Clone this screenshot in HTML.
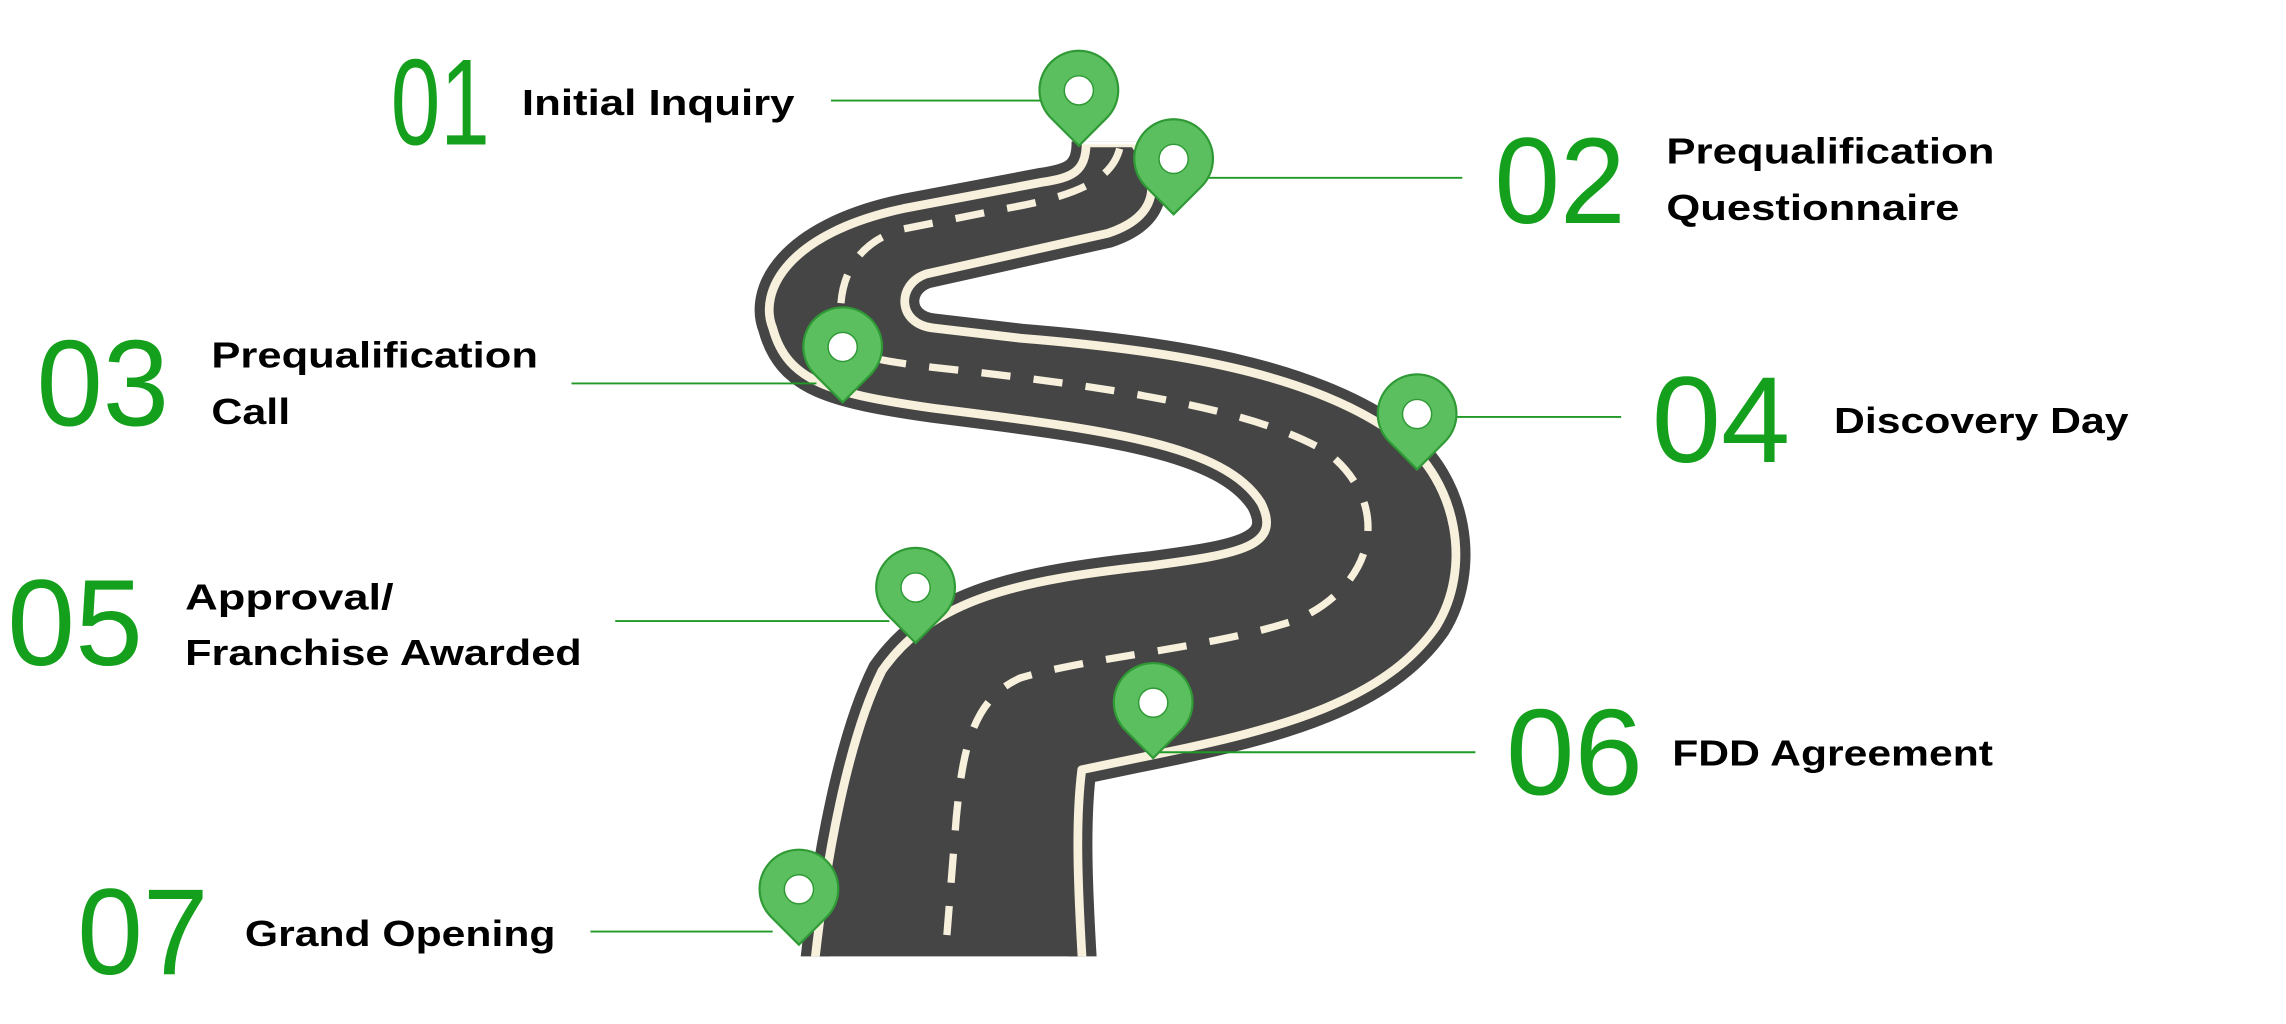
<!DOCTYPE html>
<html><head><meta charset="utf-8"><style>
html,body{margin:0;padding:0;background:#fff;}
svg{display:block;}
.n{font-family:"Liberation Sans",sans-serif;fill:#14a01c;font-size:84px;}
.t{font-family:"Liberation Sans",sans-serif;font-weight:bold;fill:#000;font-size:25px;}
.ln{stroke:#1f9a26;stroke-width:1.3;}
</style></head><body>
<svg width="2286" height="1024" viewBox="0 0 1568 702.4" preserveAspectRatio="none" xmlns="http://www.w3.org/2000/svg">
<defs>
<clipPath id="c"><rect x="0" y="97" width="1568" height="559"/></clipPath>
<g id="pin"><path d="M0,0 L-19,-19 A27,27 0 1 1 19,-19 Z" fill="#5bbf5f" stroke="#2f9a35" stroke-width="1.5"/><circle cx="0" cy="-38" r="10" fill="#fff" stroke="#2f9a35" stroke-width="1"/></g>
<path id="road" d="M745,98 C745,118 735,122 715,125 L620,143 C540,160 520,200 530,225 C540,262 570,270 640,280 C760,295 840,305 865,345 C880,375 850,380 790,388 C700,398 640,410 605,460 C585,500 565,580 555,700 L745,700 C738,600 738,560 742,528 L790,518 C880,500 950,480 985,430 C1010,390 1000,330 960,300 C900,255 800,240 700,232 L640,225 C615,222 615,195 635,188 L760,160 C790,150 800,130 778,98 Z"/>
</defs>
<g clip-path="url(#c)">
<use href="#road" fill="#454545" stroke="#454545" stroke-width="20" stroke-linejoin="round"/>
<use href="#road" fill="none" stroke="#f6f0dc" stroke-width="6" stroke-linejoin="round"/>
<rect x="740" y="90" width="45" height="9" fill="#fff"/>
<path d="M768,102 C762,125 735,135 690,143 L620,157 C585,166 572,195 578,230 C585,245 600,247 640,252 C760,265 860,280 910,310 C955,345 945,400 890,425 C830,445 750,450 700,465 C665,480 660,520 656,560 L648,660" fill="none" stroke="#f6f0dc" stroke-width="5" stroke-dasharray="20 16"/>
</g>
<g class="ln">
<line x1="570" y1="69" x2="715" y2="69"/>
<line x1="825" y1="122" x2="1003" y2="122"/>
<line x1="392" y1="263" x2="560" y2="263"/>
<line x1="998" y1="286" x2="1112" y2="286"/>
<line x1="422" y1="426" x2="610" y2="426"/>
<line x1="795" y1="516" x2="1012" y2="516"/>
<line x1="405" y1="639" x2="530" y2="639"/>
</g>
<use href="#pin" x="740" y="100"/>
<use href="#pin" x="805" y="147"/>
<use href="#pin" x="578" y="276"/>
<use href="#pin" x="972" y="322"/>
<use href="#pin" x="628" y="441"/>
<use href="#pin" x="791" y="520"/>
<use href="#pin" x="548" y="648"/>
<text class="n" x="268" y="99" textLength="68" lengthAdjust="spacingAndGlyphs">01</text>
<text class="n" x="1025" y="153" textLength="90" lengthAdjust="spacingAndGlyphs">02</text>
<text class="n" x="25" y="292" textLength="91" lengthAdjust="spacingAndGlyphs">03</text>
<text class="n" x="1133" y="317" textLength="95" lengthAdjust="spacingAndGlyphs">04</text>
<text class="n" x="5" y="456" textLength="93" lengthAdjust="spacingAndGlyphs">05</text>
<text class="n" x="1033" y="545" textLength="94" lengthAdjust="spacingAndGlyphs">06</text>
<text class="n" x="53" y="668" textLength="90" lengthAdjust="spacingAndGlyphs">07</text>
<text class="t" x="358" y="79" textLength="187" lengthAdjust="spacingAndGlyphs">Initial Inquiry</text>
<text class="t" x="1143" y="112" textLength="225" lengthAdjust="spacingAndGlyphs">Prequalification</text>
<text class="t" x="1143" y="151" textLength="201" lengthAdjust="spacingAndGlyphs">Questionnaire</text>
<text class="t" x="145" y="252" textLength="224" lengthAdjust="spacingAndGlyphs">Prequalification</text>
<text class="t" x="145" y="291" textLength="54" lengthAdjust="spacingAndGlyphs">Call</text>
<text class="t" x="1258" y="297" textLength="202" lengthAdjust="spacingAndGlyphs">Discovery Day</text>
<text class="t" x="127" y="418" textLength="143" lengthAdjust="spacingAndGlyphs">Approval/</text>
<text class="t" x="127" y="456" textLength="272" lengthAdjust="spacingAndGlyphs">Franchise Awarded</text>
<text class="t" x="1147" y="525" textLength="220" lengthAdjust="spacingAndGlyphs">FDD Agreement</text>
<text class="t" x="168" y="649" textLength="213" lengthAdjust="spacingAndGlyphs">Grand Opening</text>
</svg>
</body></html>
